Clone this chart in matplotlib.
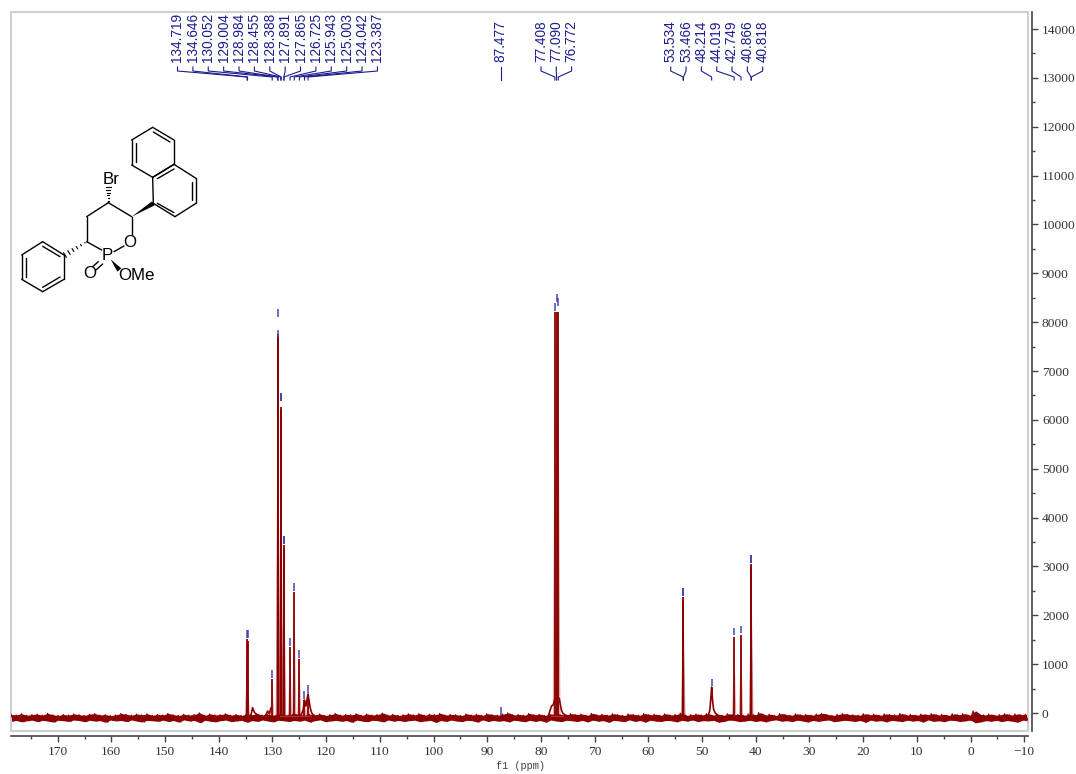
import numpy as np
import matplotlib
matplotlib.use('Agg')
import matplotlib.pyplot as plt
from matplotlib.patches import Rectangle, Polygon

# sharp peaks: position (ppm) and height
peak_ppm = [134.719, 134.646, 130.052, 129.004, 128.984, 128.455, 128.388, 127.891, 127.865,
            126.725, 125.943, 125.003, 124.042, 123.387, 87.477, 77.408, 77.090, 76.772,
            53.534, 53.466, 44.019, 42.749, 40.866, 40.818]
peak_val = [1515, 1480, 700, 7750, 7700, 6270, 6200, 3440, 3350,
            1345, 2470, 1105, 266, 390, -60, 8200, 8200, 8200,
            2370, 2300, 1560, 1600, 3050, 3000]
# lower end of the blue peak-pick dash over each peak
mark_val = [1535, 1535, 716, 8100, 7680, 6390, 6390, 3460, 3460,
            1370, 2500, 1125, 287, 410, -40, 8230, 8420, 8340,
            2400, 2400, 1590, 1630, 3080, 3080]

# broad features of the spectrum
broad_48_ppm = [49.2, 48.8, 48.55, 48.35, 48.214, 48.05, 47.85, 47.5, 47.1, 46.6]
broad_48_val = [-90, -40, 60, 330, 530, 260, 70, -10, -40, -80]
broad_77_ppm = [79.2, 78.6, 78.3, 78.0, 77.7, 77.4, 76.6, 76.2, 75.9, 75.5, 75.0, 74.4]
broad_77_val = [-90, -60, 60, 150, 170, 300, 300, 60, -10, -40, -60, -90]
broad_124_ppm = [125.0, 124.6, 124.3, 124.042, 123.8, 123.387, 123.0, 122.7, 122.3, 121.8]
broad_124_val = [-60, -20, 60, 266, 140, 390, 120, 0, -50, -80]
bump_133_ppm = [134.4, 134.0, 133.7, 133.4, 133.0, 132.6]
bump_133_val = [-90, -30, 110, 20, -30, -90]
bump_131_ppm = [131.6, 131.2, 130.9, 130.6, 130.3]
bump_131_val = [-90, -30, 40, -20, 100]

# baseline noise, left to right over the whole axis (upper and lower edge of the band in turn)
baseline_vals = [
    -28, -168, -40, -152, -14, -182, -46, -160, -32, -146, -22, -176, -44, -150, -6, -164, -36, -186, -50, -148,
    -30, -158, -42, -172, -18, -142, -34, -154, -48, -178, -24, -148, -12, -166, -40, -156, -32, -190, -52, -144,
    -38, -162, -10, -152, -26, -176, -44, -142, -20, -166, -36, -184, -16, -150, -46, -158, -28, -170, -40, -146,
    -8, -174, -34, -154, -50, -186, -24, -140, -42, -164, -30, -152, 4, -198, -46, -148, -18, -168, -38, -180,
    -32, -156, -14, -144, -44, -176, -28, -162, -48, -150, -20, -188, -36, -154, -12, -172, -40, -142, -26, -164,
    -46, -182, -16, -148, -34, -158, -42, -174, -6, -152, -30, -168, -44, -146, -22, -186, -38, -156, -18, -140,
    -50, -178, -32, -162, -10, -150, -42, -170, -28, -154, -36, -190, -14, -144, -46, -166, -20, -176, -40, -148,
    -30, -158, 0, -182, -42, -142, -26, -168, -48, -152, -34, -174, -16, -156, -38, -146, -12, -178, -44, -162,
    -24, -150, -32, -192, -8, -154, -42, -172, -28, -144, -36, -164, -50, -176, -18, -148, -40, -158, -26, -186,
    -46, -140, -14, -174, -34, -152, -42, -168, -20, -156, 2, -182, -38, -146, -30, -162, -44, -178, -10, -150,
    -36, -172, -24, -154, -48, -188, -16, -142, -40, -164, -28, -176, -42, -148, -12, -158, -32, -174, -20, -152,
    -46, -182, -6, -144, -38, -168, -26, -156, -42, -190, -14, -150, -34, -162, -50, -178, -18, -140, -30, -172,
    -44, -154, -10, -186, -36, -146, -24, -166, -46, -174, -16, -152, -40, -158, -28, -182, -2, -148, -48, -168,
    -32, -142, -20, -176, -38, -156, -12, -162, -42, -150, -26, -188, -46, -172, -14, -144, -34, -154, -30, -178,
    -44, -164, -18, -148, -36, -174, 8, -158, -40, -182, -24, -152, -50, -140, -10, -168, -32, -156, -46, -176,
    -16, -146, -38, -162, -28, -186, -42, -150, -20, -172, -6, -154, -34, -142, -48, -178, -26, -164, -12, -148,
    -30, -158, -36, -174, -44, -152, -14, -192, -36, -144, -24, -168, -46, -156, -18, -182, -32, -150, -38, -162,
    -10, -176, -42, -146, -28, -166, -44, -154, -20, -186, -34, -140, -12, -172, -40, -158, -26, -178, -48, -148,
    -16, -152, -36, -174, -12, -162, -44, -144, 45, -200, -30, -182, -38, -156, -22, -168, -46, -150, -32, -176,
    -14, -154, -42, -166, -18, -188, -34, -146, -26, -158,
]
# the flat pieces drawn under the multiplets
base_seg_ppm = [(128.6, 122.9), (78.2, 75.9)]
base_seg_val = [-60, -55]

xticks = list(range(170, -11, -10))
yticks = list(range(0, 14001, 1000))

# peak picking labels
labels_a = ['134.719', '134.646', '130.052', '129.004', '128.984', '128.455', '128.388', '127.891',
            '127.865', '126.725', '125.943', '125.003', '124.042', '123.387']
labels_b = ['87.477']
labels_c = ['77.408', '77.090', '76.772']
labels_d = ['53.534', '53.466', '48.214', '44.019', '42.749', '40.866', '40.818']

W, H = 1076, 774
RED = '#8b0000'
BLUE = '#1c1c90'

fig = plt.figure(figsize=(W / 100, H / 100), dpi=100)
ax = fig.add_axes([11 / W, 1 - 731 / H, (1028 - 11) / W, (731 - 12) / H])
ax.set_xlim(178.7, -10.7)
ax.set_ylim(-368, 14348)

# noise band: a filled envelope with the raw zigzag on top
band_x = np.linspace(178.7, -10.7, len(baseline_vals) // 2)
ax.fill_between(band_x, baseline_vals[1::2], baseline_vals[0::2], color=RED, lw=0)
ax.plot(np.linspace(178.7, -10.7, len(baseline_vals)), baseline_vals, color=RED, lw=0.8)

# light skirt and dark line for every peak
for p, v in zip(peak_ppm, peak_val):
    ax.fill([p + 0.4, p, p - 0.4], [-90, v, -90], color=RED, alpha=0.33, lw=0)
ax.vlines(peak_ppm, -90, peak_val, color=RED, lw=1.3)

for px, py in [(broad_48_ppm, broad_48_val), (broad_77_ppm, broad_77_val), (broad_124_ppm, broad_124_val),
               (bump_133_ppm, bump_133_val), (bump_131_ppm, bump_131_val)]:
    ax.plot(px, py, color=RED, lw=1.2)
for seg, v in zip(base_seg_ppm, base_seg_val):
    ax.plot(seg, [v, v], color='#a83030', lw=0.9)

ax.vlines(peak_ppm, mark_val, np.array(mark_val) + 160, color='#3a3ab0', lw=1.3, alpha=0.8)
ax.vlines([48.214], [545], [690], color='#3a3ab0', lw=1.3, alpha=0.8)

ax.add_patch(Rectangle((0, 0), 1, 1, transform=ax.transAxes, fill=False, ec='#d0d0d0', lw=1.5, clip_on=False))

ax.spines['top'].set_visible(False)
ax.spines['left'].set_visible(False)
ax.spines['bottom'].set_position(('outward', 3.6))
ax.spines['right'].set_position(('outward', 3.0))
ax.spines['bottom'].set_color('#444444')
ax.spines['right'].set_color('#444444')
ax.spines['bottom'].set_linewidth(1.2)
ax.spines['right'].set_linewidth(1.2)

ax.yaxis.tick_right()
ax.set_xticks(xticks)
ax.set_xticks(np.arange(175, -10, -10), minor=True)
ax.set_yticks(yticks)
ax.set_yticks(np.arange(500, 14000, 1000), minor=True)
ax.tick_params(axis='both', which='major', length=4, width=1, color='#444444', labelcolor='#333333',
               labelsize=9.7, pad=3)
ax.tick_params(axis='both', which='minor', length=2.2, width=1, color='#444444')
for t in ax.get_xticklabels() + ax.get_yticklabels():
    t.set_fontfamily('Liberation Serif')

# overlay in picture pixels for labels, leaders and the structure
ov = fig.add_axes([0, 0, 1, 1])
ov.set_xlim(0, W)
ov.set_ylim(H, 0)
ov.axis('off')
ov.patch.set_alpha(0)

ov.text(520, 766, 'f1 (ppm)', family='Liberation Mono', fontsize=7.4, color='#444444', ha='center', va='center')


def ppm_to_px(ppm):
    return ax.transData.transform((ppm, 0))[0]


def pick_group(labels, start, step):
    for i, lab in enumerate(labels):
        lx = start + i * step
        p = ppm_to_px(float(lab))
        ov.text(lx, 61.5, lab, rotation=90, ha='center', va='bottom', color=BLUE,
                family='Liberation Sans', fontsize=9.8)
        ov.plot([lx, lx, p, p], [67, 71, 77, 80], color=BLUE, lw=0.8, solid_joinstyle='miter')


pick_group(labels_a, 177.5, 15.38)
pick_group(labels_c, 541, 15.3)
pick_group(labels_d, 670.7, 15.33)
ov.text(500.7, 62, labels_b[0], rotation=90, ha='center', va='bottom', color=BLUE,
        family='Liberation Sans', fontsize=9.8)
ov.plot([500.7, 500.7], [67, 80], color=BLUE, lw=0.8)


# structure, coordinates taken on a 3x crop
def mx(p):
    return 10 + p[0] / 3, 120 + p[1] / 3


def bond(a, b, lw=1.0):
    (x0, y0), (x1, y1) = mx(a), mx(b)
    ov.plot([x0, x1], [y0, y1], color='black', lw=lw, solid_capstyle='round')


def wedge(a, b, w=2.4):
    (x0, y0), (x1, y1) = mx(a), mx(b)
    d = np.array([x1 - x0, y1 - y0])
    n = np.array([-d[1], d[0]]) / np.hypot(*d) * w
    ov.add_patch(Polygon([(x0, y0), (x1 + n[0], y1 + n[1]), (x1 - n[0], y1 - n[1])], color='black', lw=0))


def hashed(a, b, w=2.6, n=6):
    (x0, y0), (x1, y1) = mx(a), mx(b)
    d = np.array([x1 - x0, y1 - y0])
    nrm = np.array([-d[1], d[0]]) / np.hypot(*d)
    for f in np.linspace(0.08, 1, n):
        c = np.array([x0, y0]) + d * f
        ov.plot([c[0] - nrm[0] * w * f, c[0] + nrm[0] * w * f], [c[1] - nrm[1] * w * f, c[1] + nrm[1] * w * f],
                color='black', lw=0.8)


ring_up = [(428, 22), (492, 60), (492, 133), (428, 172), (365, 135), (365, 60)]
ring_low = [(492, 133), (558, 175), (558, 250), (495, 290), (430, 250), (428, 172)]
ring_ph = [(162, 405), (162, 478), (98, 515), (35, 478), (35, 405), (98, 365)]
for ring in (ring_up, ring_low, ring_ph):
    for i in range(6):
        bond(ring[i], ring[(i + 1) % 6])
inner = [((430, 36), (480, 66)), ((378, 70), (378, 125)), ((442, 176), (492, 147)),
         ((545, 185), (545, 240)), ((442, 250), (492, 278)),
         ((98, 379), (150, 410)), ((47, 414), (47, 470)), ((150, 471), (98, 502))]
for a, b in inner:
    bond(a, b)

bond((365, 290), (365, 345))
bond((365, 290), (295, 248))
bond((295, 248), (230, 290))
bond((230, 290), (230, 365))
bond((230, 365), (275, 390))
bond((312, 395), (342, 378))
bond((265, 425), (248, 440))
bond((278, 432), (258, 450))
wedge((365, 290), (430, 250))
wedge((302, 418), (328, 450), w=2.6)
hashed((295, 248), (295, 200))
hashed((230, 365), (165, 405))

for s, p in [('Br', (303, 178)), ('P', (293, 405)), ('O', (360, 368)), ('O', (238, 462)), ('OMe', (380, 468))]:
    x, y = mx(p)
    ov.text(x, y, s, family='Liberation Sans', fontsize=12.2, color='black', ha='center', va='center')

fig.savefig('out.png', dpi=100)
